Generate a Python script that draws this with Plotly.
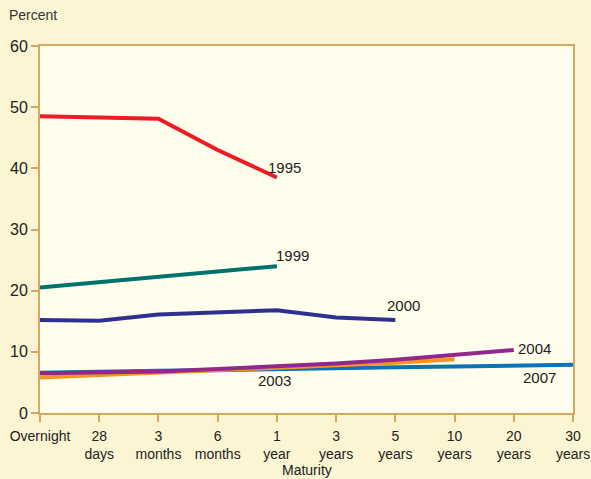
import plotly.graph_objects as go

categories = ["Overnight", "28<br>days", "3<br>months", "6<br>months", "1<br>year",
              "3<br>years", "5<br>years", "10<br>years", "20<br>years", "30<br>years"]

y1995 = [48.5, 48.3, 48.1, 43.0, 38.5]
y1999 = [20.5, 21.4, 22.3, 23.1, 24.0]
y2000 = [15.2, 15.1, 16.1, 16.5, 16.8, 15.6, 15.2]
y2003 = [5.8, 6.2, 6.5, 7.0, 7.4, 7.7, 8.2, 8.8]
y2004 = [6.5, 6.6, 6.8, 7.2, 7.6, 8.1, 8.7, 9.5, 10.3]
y2007 = [6.6, 6.8, 6.9, 7.0, 7.2, 7.3, 7.5, 7.6, 7.7, 7.9]
yticks = [0, 10, 20, 30, 40, 50, 60]

series = [
    ("2007", y2007, "#0B72BA"),
    ("2003", y2003, "#F7941D"),
    ("2004", y2004, "#92278F"),
    ("2000", y2000, "#2E3192"),
    ("1999", y1999, "#00726E"),
    ("1995", y1995, "#EC1C24"),
]

FONT = "Liberation Sans, Arial, sans-serif"
BG = "#FCF5D3"

fig = go.Figure()
for name, vals, col in series:
    fig.add_trace(go.Scatter(x=list(range(len(vals))), y=vals, mode="lines",
                             line=dict(color=col, width=4), name=name,
                             showlegend=False, hoverinfo="skip"))

labels = [
    ("1995", 4, y1995[4], -0.18, 1.7),
    ("1999", 4, y1999[-1], -0.05, 1.8),
    ("2000", 6, y2000[-1], -0.18, 2.3),
    ("2004", 8, y2004[-1], 0.03, 0.3),
    ("2003", 4, y2003[4], -0.35, -2.1),
    ("2007", 8, y2007[8], 0.13, -1.9),
]
for t, xi, yv, dx, dy in labels:
    fig.add_annotation(x=xi + dx, y=yv + dy, text=t, showarrow=False,
                       xanchor="left", yanchor="middle",
                       font=dict(size=15, color="#222222", family=FONT))

fig.add_annotation(xref="paper", yref="paper", x=-0.062, y=1.058, text="Percent",
                   showarrow=False, xanchor="left", yanchor="bottom",
                   font=dict(size=14, color="#333333", family=FONT))
fig.add_annotation(xref="paper", yref="paper", x=0.5, y=-0.155, text="Maturity",
                   showarrow=False, xanchor="center", yanchor="middle",
                   font=dict(size=14, color="#222222", family=FONT))

axcol = "#D4A860"
fig.update_layout(
    width=591, height=479,
    margin=dict(l=40, r=18, t=46, b=66),
    paper_bgcolor=BG,
    plot_bgcolor="#FFFDEB",
    font=dict(family=FONT, size=14, color="#222222"),
    xaxis=dict(range=[0, 9], tickmode="array", tickvals=list(range(10)), ticktext=categories,
               showgrid=False, zeroline=False, showline=True, linecolor=axcol, linewidth=2,
               mirror=True, ticks="outside", tickcolor=axcol, ticklen=7, tickwidth=2,
               tickfont=dict(size=14), ticklabelstandoff=2, automargin=False),
    yaxis=dict(range=[0, 60], tickvals=yticks, showgrid=False, zeroline=False,
               showline=True, linecolor=axcol, linewidth=2, mirror=True,
               ticks="outside", tickcolor=axcol, ticklen=7, tickwidth=2,
               tickfont=dict(size=16), automargin=False),
)

fig.write_html("out.html", config={"displayModeBar": False},
               post_script="document.body.style.margin='0';document.body.style.background='%s';" % BG)
